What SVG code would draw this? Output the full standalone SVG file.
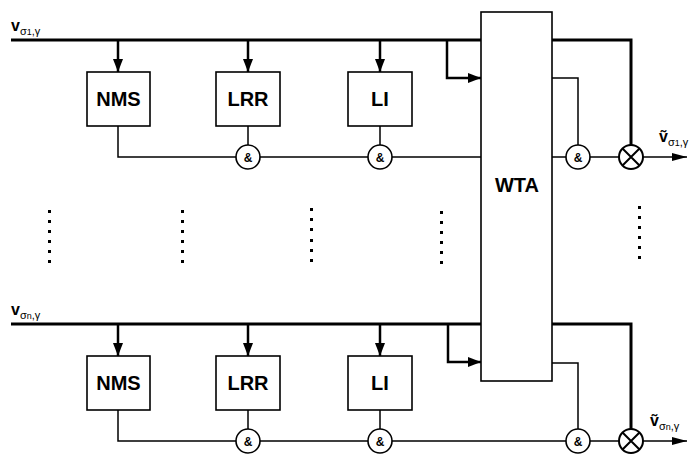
<svg xmlns="http://www.w3.org/2000/svg" width="690" height="459" viewBox="0 0 690 459">
<defs>
<marker id="ah" markerUnits="userSpaceOnUse" markerWidth="14" markerHeight="10" refX="13" refY="5" orient="auto"><path d="M0,0 L13,5 L0,10 Z" fill="#000"/></marker>
<marker id="ah2" markerUnits="userSpaceOnUse" markerWidth="16" markerHeight="10" refX="15" refY="5" orient="auto"><path d="M0,1 L15,5 L0,9 Z" fill="#000"/></marker>
</defs>
<style>
.box{fill:#fff;stroke:#000;stroke-width:1.6}
.thin{fill:none;stroke:#000;stroke-width:1.5}
.thick{fill:none;stroke:#000;stroke-width:3}
.arr{fill:none;stroke:#000;stroke-width:2.5}
.lbl{font-family:"Liberation Sans",Arial,sans-serif;font-weight:bold;font-size:20px;text-anchor:middle;fill:#000}
.amp{font-family:"Liberation Sans",Arial,sans-serif;font-weight:bold;font-size:12px;text-anchor:middle;fill:#000}
.var{font-family:"Liberation Sans",Arial,sans-serif;font-weight:bold;font-size:16px;fill:#000}
.sub{font-family:"Liberation Sans",Arial,sans-serif;font-weight:normal;font-size:11px}
.dot{fill:#000}
</style>
<g id="connectors">
<path class="thick" d="M11,40 H481"/>
<path class="thick" d="M552,40 H631 V145"/>
<path class="arr" d="M118,40 V72" marker-end="url(#ah)"/>
<path class="arr" d="M248,40 V72" marker-end="url(#ah)"/>
<path class="arr" d="M380,40 V72" marker-end="url(#ah)"/>
<path class="arr" d="M447,40 V78 H481" marker-end="url(#ah)"/>
<path class="thin" d="M118,126 V157 H236 M260,157 H368 M392,157 H481"/>
<path class="thin" d="M248,126 V145 M380,126 V145"/>
<path class="thin" d="M552,78 H578 V145"/>
<path class="thin" d="M552,157 H566 M590,157 H619"/>
<path class="thin" d="M643,157 H687" marker-end="url(#ah2)"/>
<path class="thick" d="M11,324 H481"/>
<path class="thick" d="M552,324 H631 V429"/>
<path class="arr" d="M118,324 V356" marker-end="url(#ah)"/>
<path class="arr" d="M248,324 V356" marker-end="url(#ah)"/>
<path class="arr" d="M380,324 V356" marker-end="url(#ah)"/>
<path class="arr" d="M448,324 V362 H481" marker-end="url(#ah)"/>
<path class="thin" d="M118,410 V441 H236 M260,441 H368 M392,441 H566 M590,441 H619"/>
<path class="thin" d="M248,410 V429 M380,410 V429"/>
<path class="thin" d="M552,363 H578 V429"/>
<path class="thin" d="M643,441 H687" marker-end="url(#ah2)"/>
</g>
<g id="wta"><rect class="box" x="481" y="12" width="71" height="369"/><text class="lbl" x="517" y="192">WTA</text></g>
<g id="nms1"><rect class="box" x="87" y="72" width="63" height="54"/><text class="lbl" x="118.5" y="106">NMS</text></g>
<g id="lrr1"><rect class="box" x="216" y="72" width="64" height="54"/><text class="lbl" x="248" y="106">LRR</text></g>
<g id="li1"><rect class="box" x="348" y="72" width="64" height="54"/><text class="lbl" x="380" y="106">LI</text></g>
<g id="nms2"><rect class="box" x="87" y="356" width="63" height="54"/><text class="lbl" x="118.5" y="390">NMS</text></g>
<g id="lrr2"><rect class="box" x="216" y="356" width="64" height="54"/><text class="lbl" x="248" y="390">LRR</text></g>
<g id="li2"><rect class="box" x="348" y="356" width="64" height="54"/><text class="lbl" x="380" y="390">LI</text></g>
<g id="and1"><circle class="box" cx="248" cy="157" r="12"/><text class="amp" x="248" y="161.5">&amp;</text></g>
<g id="and2"><circle class="box" cx="380" cy="157" r="12"/><text class="amp" x="380" y="161.5">&amp;</text></g>
<g id="and3"><circle class="box" cx="578" cy="157" r="12"/><text class="amp" x="578" y="161.5">&amp;</text></g>
<g id="and4"><circle class="box" cx="248" cy="441" r="12"/><text class="amp" x="248" y="445.5">&amp;</text></g>
<g id="and5"><circle class="box" cx="380" cy="441" r="12"/><text class="amp" x="380" y="445.5">&amp;</text></g>
<g id="and6"><circle class="box" cx="578" cy="441" r="12"/><text class="amp" x="578" y="445.5">&amp;</text></g>
<g id="mul1"><circle class="box" cx="631" cy="157" r="12" style="stroke-width:2"/><path d="M622.5,148.5 L639.5,165.5 M639.5,148.5 L622.5,165.5" stroke="#000" stroke-width="2"/></g>
<g id="mul2"><circle class="box" cx="631" cy="441" r="12" style="stroke-width:2"/><path d="M622.5,432.5 L639.5,449.5 M639.5,432.5 L622.5,449.5" stroke="#000" stroke-width="2"/></g>
<g id="labels">
<text class="var" x="11" y="31">v<tspan class="sub" dy="4">σ<tspan font-size="9">1</tspan>,γ</tspan></text>
<text class="var" x="11" y="315">v<tspan class="sub" dy="4">σ<tspan font-size="9">n</tspan>,γ</tspan></text>
<text class="var" x="659" y="142">ṽ<tspan class="sub" dy="4">σ<tspan font-size="9">1</tspan>,γ</tspan></text>
<text class="var" x="650" y="426">ṽ<tspan class="sub" dy="4">σ<tspan font-size="9">n</tspan>,γ</tspan></text>
</g>
<g id="dots">
<rect class="dot" x="48" y="210" width="3" height="3"/><rect class="dot" x="48" y="220" width="3" height="3"/><rect class="dot" x="48" y="230" width="3" height="3"/><rect class="dot" x="48" y="240" width="3" height="3"/><rect class="dot" x="48" y="250" width="3" height="3"/><rect class="dot" x="48" y="260" width="3" height="3"/>
<rect class="dot" x="181" y="210" width="3" height="3"/><rect class="dot" x="181" y="220" width="3" height="3"/><rect class="dot" x="181" y="230" width="3" height="3"/><rect class="dot" x="181" y="240" width="3" height="3"/><rect class="dot" x="181" y="250" width="3" height="3"/><rect class="dot" x="181" y="260" width="3" height="3"/>
<rect class="dot" x="310" y="208" width="3" height="3"/><rect class="dot" x="310" y="218" width="3" height="3"/><rect class="dot" x="310" y="228" width="3" height="3"/><rect class="dot" x="310" y="239" width="3" height="3"/><rect class="dot" x="310" y="249" width="3" height="3"/><rect class="dot" x="310" y="259" width="3" height="3"/>
<rect class="dot" x="440" y="211" width="3" height="3"/><rect class="dot" x="440" y="221" width="3" height="3"/><rect class="dot" x="440" y="231" width="3" height="3"/><rect class="dot" x="440" y="241" width="3" height="3"/><rect class="dot" x="440" y="251" width="3" height="3"/><rect class="dot" x="440" y="261" width="3" height="3"/>
<rect class="dot" x="638" y="206" width="3" height="3"/><rect class="dot" x="638" y="216" width="3" height="3"/><rect class="dot" x="638" y="226" width="3" height="3"/><rect class="dot" x="638" y="236" width="3" height="3"/><rect class="dot" x="638" y="246" width="3" height="3"/><rect class="dot" x="638" y="256" width="3" height="3"/>
</g>
</svg>
